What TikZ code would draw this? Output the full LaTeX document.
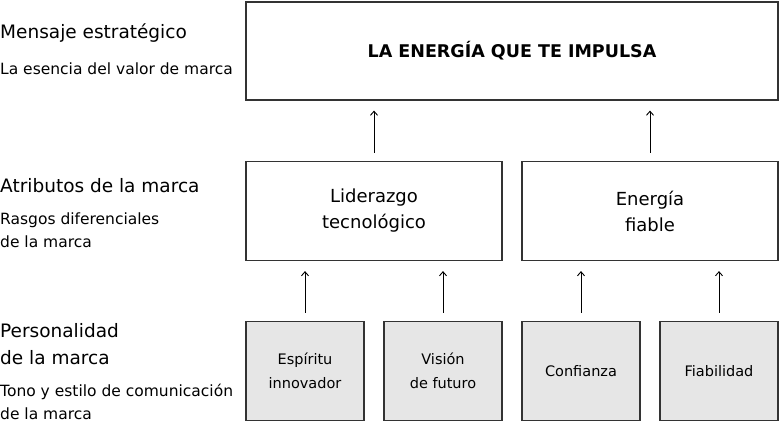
\documentclass[tikz,border=0pt]{standalone}
\usepackage{fontspec}
\setmainfont{DejaVu Sans}
\usetikzlibrary{arrows.meta}
\definecolor{boxline}{HTML}{333333}
\definecolor{boxfill}{HTML}{E6E6E6}
\tikzset{
  whitebox/.style={draw=boxline, line width=1.2pt, fill=white, align=center, inner sep=0pt},
  greybox/.style={whitebox, fill=boxfill, minimum width=118pt, minimum height=99pt,
    font=\fontsize{14.5}{24}\selectfont},
  uparrow/.style={-{Straight Barb[length=4pt,width=7pt]}, line width=0.9pt, shorten <=8pt, shorten >=10pt},
  heading/.style={anchor=base west, inner sep=0pt, align=left, font=\fontsize{18.5}{27}\selectfont},
  subheading/.style={anchor=base west, inner sep=0pt, align=left, font=\fontsize{15.5}{23}\selectfont}
}
\begin{document}
\begin{tikzpicture}[x=1pt, y=-1pt]
\useasboundingbox (0,0) rectangle (780,423);

% Left column: level names (base = last line)
\node [heading] (hmsg) at (0,38) {Mensaje estratégico};
\node [subheading] (smsg) at (0,74) {La esencia del valor de marca};
\node [heading] (hatr) at (0,192) {Atributos de la marca};
\node [subheading] (satr) at (0,247) {Rasgos diferenciales\\de la marca};
\node [heading] (hper) at (0,364) {Personalidad\\de la marca};
\node [subheading] (sper) at (0,419) {Tono y estilo de comunicación\\de la marca};

% Top box: message
\node [whitebox, minimum width=532pt, minimum height=98pt,
  font=\bfseries\fontsize{17.5}{27}\selectfont] (msg) at (512,51) {LA ENERGÍA QUE TE IMPULSA};

% Middle boxes: attributes
\node [whitebox, minimum width=256pt, minimum height=99pt,
  font=\fontsize{18}{26}\selectfont] (lider) at (374,211) {Liderazgo\\tecnológico};
\node [whitebox, minimum width=256pt, minimum height=99pt,
  font=\fontsize{18}{26}\selectfont] (energ) at (650,211) {Energía\\fiable};

% Bottom boxes: personality
\node [greybox] (espir) at (305,371) {Espíritu\\innovador};
\node [greybox] (vision) at (443,371) {Visión\\de futuro};
\node [greybox] (confi) at (581,371) {Confianza};
\node [greybox] (fiab) at (719,371) {Fiabilidad};

% Arrows up
\draw [uparrow] (lider.north) -- (lider.north |- msg.south);
\draw [uparrow] (energ.north) -- (energ.north |- msg.south);
\draw [uparrow] (espir.north) -- (espir.north |- lider.south);
\draw [uparrow] (vision.north) -- (vision.north |- lider.south);
\draw [uparrow] (confi.north) -- (confi.north |- energ.south);
\draw [uparrow] (fiab.north) -- (fiab.north |- energ.south);
\end{tikzpicture}
\end{document}
